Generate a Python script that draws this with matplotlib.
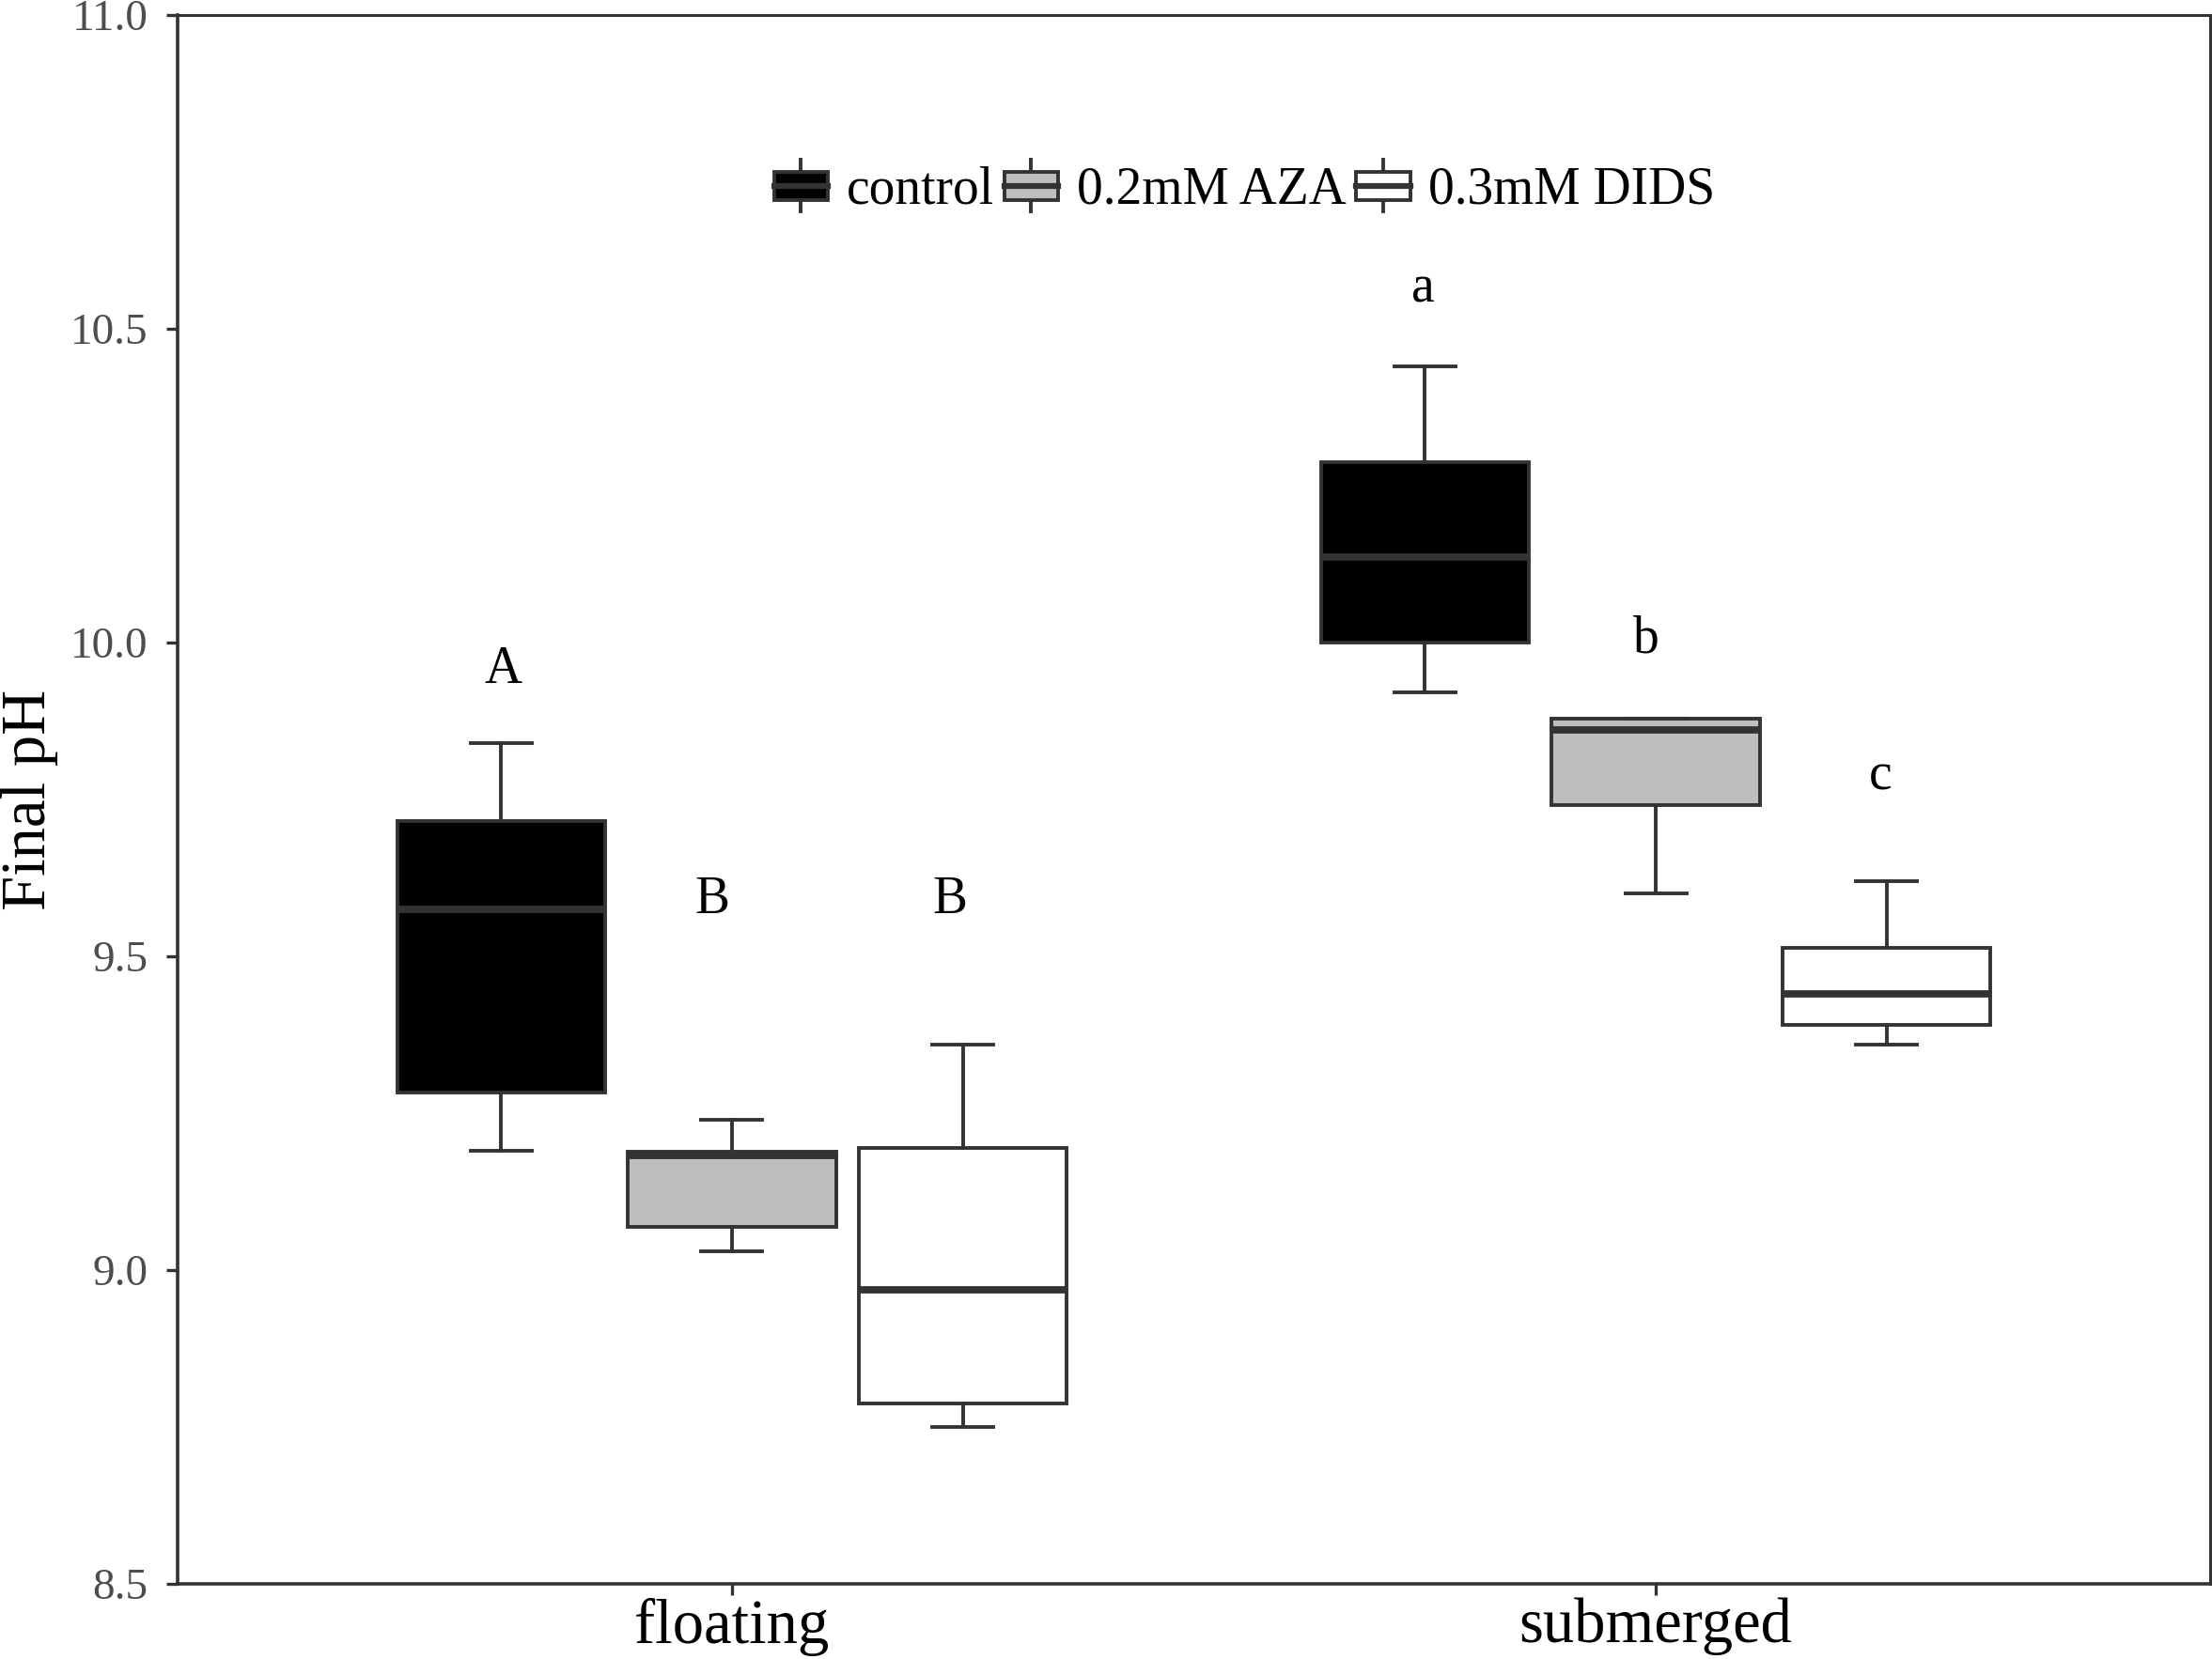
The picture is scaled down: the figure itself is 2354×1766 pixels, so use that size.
import matplotlib
matplotlib.use("Agg")
import matplotlib.pyplot as plt
from matplotlib.legend_handler import HandlerBase
from matplotlib.patches import Rectangle
from matplotlib.lines import Line2D

plt.rcParams['font.family'] = ['Liberation Serif', 'DejaVu Serif']

# ---------------- data ----------------
habitats = ["floating", "submerged"]
treatments = ["control", "0.2mM AZA", "0.3mM DIDS"]
fill_colors = ["#000000", "#BEBEBE", "#FFFFFF"]

# per treatment: values for [floating, submerged]
whislo = {"control": [9.19, 9.92], "0.2mM AZA": [9.03, 9.60], "0.3mM DIDS": [8.75, 9.36]}
q1 = {"control": [9.283, 10.00], "0.2mM AZA": [9.069, 9.741], "0.3mM DIDS": [8.788, 9.390]}
med = {"control": [9.575, 10.136], "0.2mM AZA": [9.182, 9.861], "0.3mM DIDS": [8.969, 9.440]}
q3 = {"control": [9.716, 10.287], "0.2mM AZA": [9.189, 9.879], "0.3mM DIDS": [9.195, 9.514]}
whishi = {"control": [9.84, 10.44], "0.2mM AZA": [9.24, 9.879], "0.3mM DIDS": [9.36, 9.62]}

letters = {"control": ["A", "a"], "0.2mM AZA": ["B", "b"], "0.3mM DIDS": ["B", "c"]}
letter_y = {"control": [9.936, 10.542], "0.2mM AZA": [9.569, 9.984], "0.3mM DIDS": [9.569, 9.765]}
letter_dx = {"control": [-0.248, -0.252], "0.2mM AZA": [-0.021, -0.010], "0.3mM DIDS": [0.236, 0.243]}

y_ticks = [8.5, 9.0, 9.5, 10.0, 10.5, 11.0]
y_label = "Final pH"

# ---------------- figure ----------------
fig = plt.figure(figsize=(11.77, 8.83), dpi=200)
ax = fig.add_axes([189 / 2354, 1 - 1686 / 1766, (2352 - 189) / 2354, (1686 - 16) / 1766])

edge = "#333333"
lw_box = 1.4
offsets = [-0.25, 0.0, 0.25]
box_w = 0.225
cap_w = 0.066

for ti, t in enumerate(treatments):
    stats = []
    positions = []
    for hi, h in enumerate(habitats):
        stats.append(dict(whislo=whislo[t][hi], q1=q1[t][hi], med=med[t][hi],
                          q3=q3[t][hi], whishi=whishi[t][hi], fliers=[]))
        positions.append(hi + 1 + offsets[ti])
    ax.bxp(stats, positions=positions, widths=box_w, patch_artist=True,
           showfliers=False, manage_ticks=False,
           boxprops=dict(facecolor=fill_colors[ti], edgecolor=edge, linewidth=lw_box),
           medianprops=dict(color=edge, linewidth=lw_box * 2, solid_capstyle='butt'),
           whiskerprops=dict(color=edge, linewidth=lw_box),
           capprops=dict(color=edge, linewidth=lw_box), capwidths=cap_w)
    for hi in range(len(habitats)):
        ax.text(hi + 1 + letter_dx[t][hi], letter_y[t][hi], letters[t][hi],
                ha='center', va='baseline', fontsize=20, color='black')

ax.set_xlim(0.4, 2.6)
ax.set_ylim(8.5, 11.0)
ax.set_xticks([1, 2])
ax.set_xticklabels(habitats, fontsize=24, color='black')
ax.set_yticks(y_ticks)
ax.set_yticklabels([f"{v:.1f}" for v in y_ticks], fontsize=17, color='#4D4D4D')
ax.tick_params(axis='both', length=4.4, width=1.2, color=edge)
ax.tick_params(axis='y', pad=7)
ax.tick_params(axis='x', pad=1)
ax.set_ylabel(y_label, fontsize=24)
ax.yaxis.set_label_coords(-0.0585, 0.5)
for s in ax.spines.values():
    s.set_color(edge)
    s.set_linewidth(1.1)
ax.spines['left'].set_linewidth(1.3)
ax.spines['bottom'].set_linewidth(1.3)


# ---------------- legend ----------------
class BoxHandler(HandlerBase):
    def create_artists(self, legend, orig_handle, xdescent, ydescent,
                       width, height, fontsize, trans):
        x0, y0 = -xdescent, -ydescent
        cx = x0 + width / 2
        cy = y0 + height / 2
        bh = height * 0.62
        wh = height * 1.15
        whisk = Line2D([cx, cx], [cy - wh / 2, cy + wh / 2], color=edge,
                       linewidth=lw_box, transform=trans)
        rect = Rectangle((x0, cy - bh / 2), width, bh, facecolor=orig_handle.get_facecolor(),
                         edgecolor=edge, linewidth=lw_box, transform=trans)
        mline = Line2D([x0, x0 + width], [cy, cy], color=edge, linewidth=lw_box * 1.6,
                       transform=trans)
        return [whisk, rect, mline]


handles = [Rectangle((0, 0), 1, 1, facecolor=c) for c in fill_colors]
leg = ax.legend(handles, treatments, handler_map={Rectangle: BoxHandler()},
                loc='center', bbox_to_anchor=(0.525, 0.889), ncol=3, frameon=False,
                fontsize=20, handlelength=1.03, handleheight=0.95,
                handletextpad=0.35, columnspacing=0.2, borderpad=0.2)

fig.savefig("out.png", dpi=200)
